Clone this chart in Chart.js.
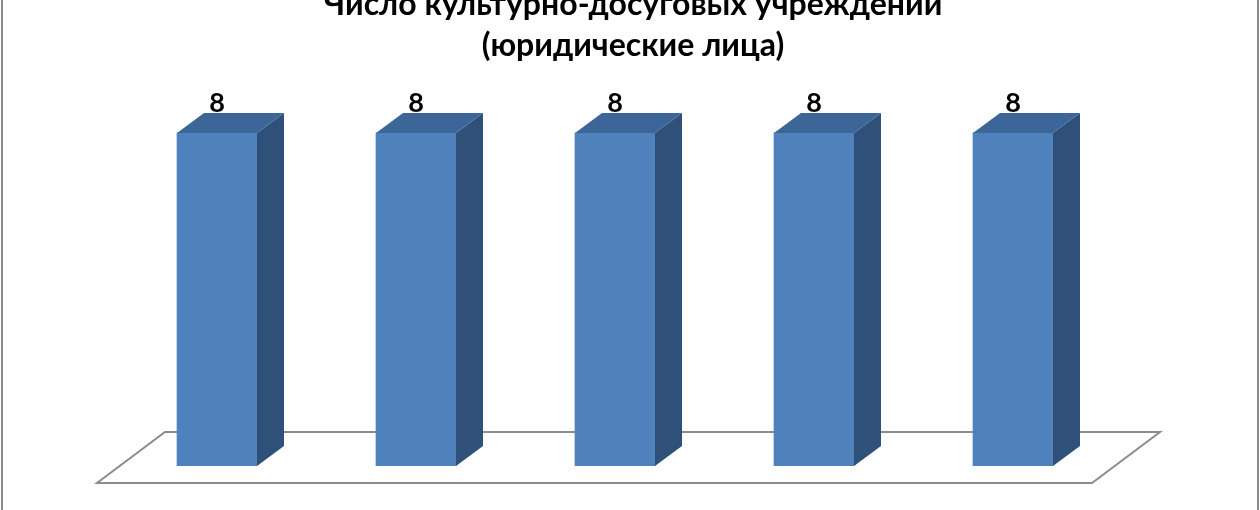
<!DOCTYPE html>
<html lang="ru">
<head>
<meta charset="utf-8">
<title>Число культурно-досуговых учреждений</title>
<script src="https://cdn.jsdelivr.net/npm/chart.js@4.4.1/dist/chart.umd.min.js"></script>
<style>
    html, body { margin: 0; padding: 0; background: #fff; }
    #wrap { position: relative; width: 1260px; height: 510px; overflow: hidden; }
    #wrap canvas { position: absolute; left: 0; top: -30px; }
    #rama {
        position: absolute; left: 1px; top: 0; width: 1254px; height: 510px;
        border-left: 2px solid #8a8a8a; border-right: 2px solid #8a8a8a;
        pointer-events: none;
    }
</style>
</head>
<body>
<div id="wrap">
    <canvas id="grafico" width="1260" height="540"></canvas>
    <div id="rama"></div>
</div>
<script>
// ── Datos ───────────────────────────────────────────────────────────────
var categorias = ['1', '2', '3', '4', '5'];
var valores    = [8, 8, 8, 8, 8];
var titulo     = ['Число культурно-досуговых учреждений', '(юридические лица)'];

var FUENTE = "Lato,'Liberation Sans',Arial,sans-serif";

// ── Plugin: suelo + caras 3D + etiquetas ─────────────────────────────────
var efecto3d = {
    id: 'efecto3d',
    beforeDatasetsDraw: function (chart) {
        var a = chart.chartArea, ctx = chart.ctx;
        var yF = a.bottom + 17, xL = a.left - 20.5, xR = a.right - 20.5;
        ctx.save();
        ctx.strokeStyle = '#8c8c8c';
        ctx.lineWidth = 2;
        ctx.beginPath();
        ctx.moveTo(xL, yF);
        ctx.lineTo(xR, yF);
        ctx.lineTo(xR + 68, yF - 51);
        ctx.lineTo(xL + 68, yF - 51);
        ctx.closePath();
        ctx.stroke();
        ctx.restore();
    },
    afterDatasetsDraw: function (chart) {
        var ctx = chart.ctx, dx = 27, dy = -20;
        var meta = chart.getDatasetMeta(0);
        ctx.save();
        meta.data.forEach(function (bar, i) {
            var w = bar.width / 2, x0 = bar.x - w, x1 = bar.x + w, yt = bar.y, yb = bar.base;
            // cara lateral
            ctx.fillStyle = '#2f5179';
            ctx.beginPath();
            ctx.moveTo(x1, yt); ctx.lineTo(x1 + dx, yt + dy);
            ctx.lineTo(x1 + dx, yb + dy); ctx.lineTo(x1, yb);
            ctx.closePath(); ctx.fill();
            // cara superior
            ctx.fillStyle = '#3d6698';
            ctx.beginPath();
            ctx.moveTo(x0, yt); ctx.lineTo(x1, yt);
            ctx.lineTo(x1 + dx, yt + dy); ctx.lineTo(x0 + dx, yt + dy);
            ctx.closePath(); ctx.fill();
            // etiqueta
            ctx.fillStyle = '#000';
            ctx.font = 'bold 27px ' + FUENTE;
            ctx.textAlign = 'center';
            ctx.textBaseline = 'alphabetic';
            ctx.fillText(String(valores[i]), bar.x, yt + dy - 1);
        });
        ctx.restore();
    }
};

new Chart(document.getElementById('grafico'), {
    type: 'bar',
    data: {
        labels: categorias,
        datasets: [{
            data: valores,
            backgroundColor: '#4f81bd',
            borderWidth: 0,
            barThickness: 80
        }]
    },
    options: {
        responsive: false,
        animation: false,
        layout: { padding: { left: 117.5, right: 111.5, top: 0, bottom: 44 } },
        plugins: {
            legend: { display: false },
            tooltip: { enabled: false },
            title: {
                display: true,
                text: titulo,
                color: '#000',
                font: { family: FUENTE, size: 32, weight: 'bold', lineHeight: 1.28 },
                padding: { top: 14.4, bottom: 0 }
            }
        },
        scales: {
            x: { display: false },
            y: {
                position: 'right',
                min: 0,
                max: 9.6,
                ticks: { display: false },
                grid: { display: false },
                border: { display: false },
                afterFit: function (eje) { eje.width = 36; }
            }
        }
    },
    plugins: [efecto3d]
});
</script>
</body>
</html>
